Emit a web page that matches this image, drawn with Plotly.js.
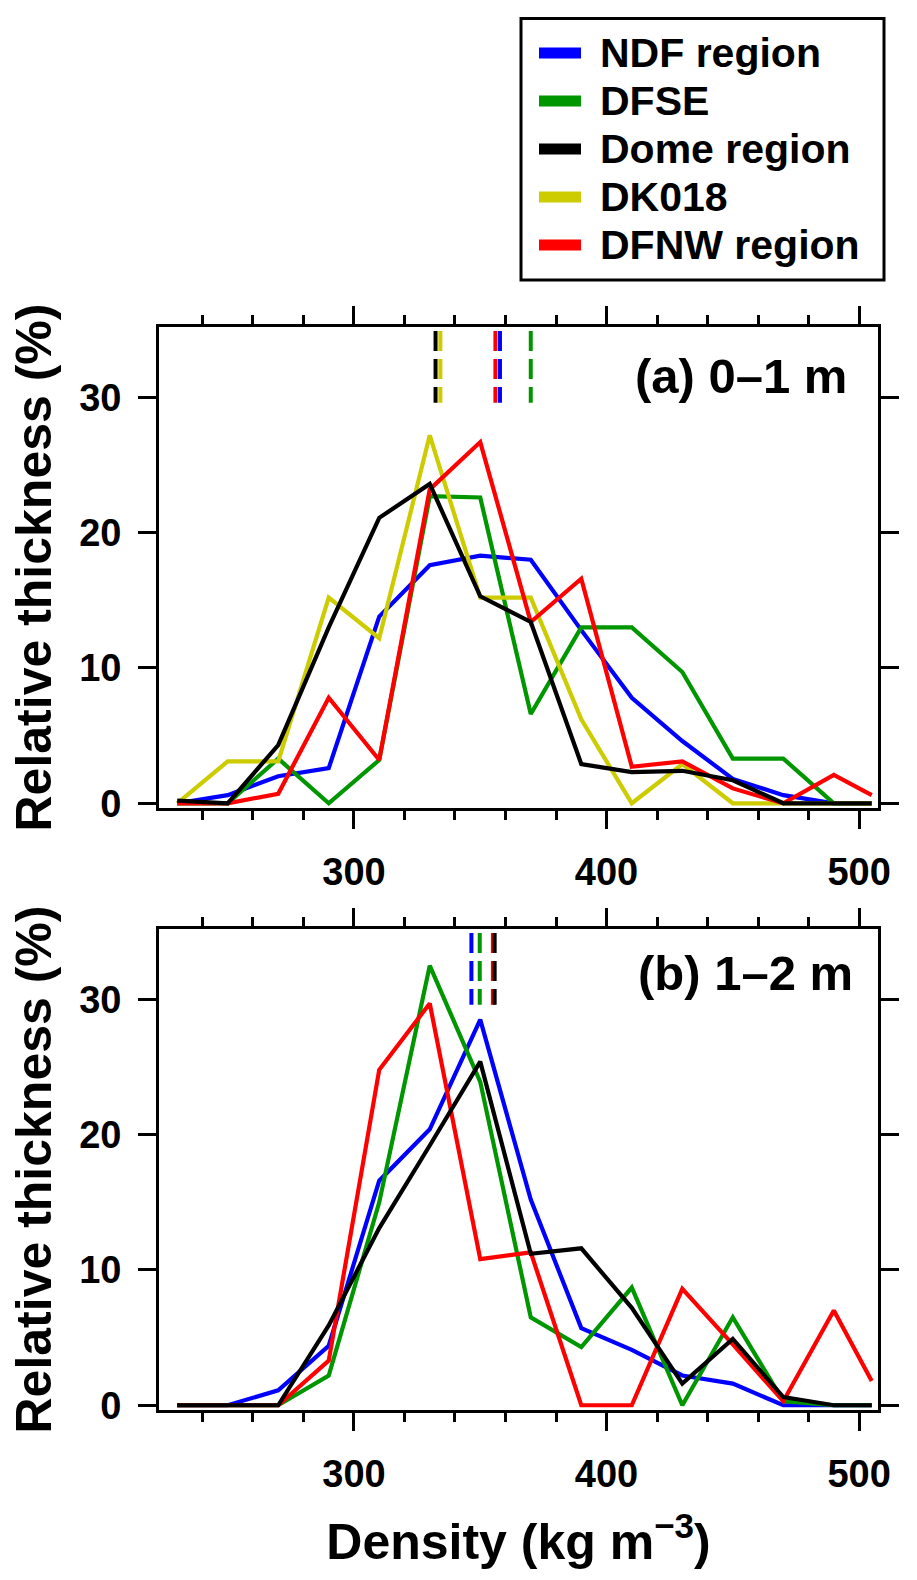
<!DOCTYPE html>
<html>
<head>
<meta charset="utf-8">
<script src="https://cdn.plot.ly/plotly-3.0.1.min.js"></script>
<style>body{margin:0;background:#fff}</style>
</head>
<body>
<div id="chartDiv" style="width:917px;height:1580px"></div>
<script>
// density bin centres (kg m-3)
var density = [230, 250, 270, 290, 310, 330, 350, 370, 390, 410, 430, 450, 470, 490, 505];

// (a) 0-1 m, relative thickness (%)
var ndfA   = [0, 0.6, 2.0, 2.6, 13.8, 17.6, 18.3, 18.0, 12.8, 7.8, 4.6, 1.8, 0.6, 0, 0];
var dfseA  = [0, 0, 3.3, 0, 3.2, 22.7, 22.6, 6.6, 13.0, 13.0, 9.7, 3.3, 3.3, 0, 0];
var domeA  = [0.2, 0, 4.3, 13.0, 21.1, 23.6, 15.3, 13.4, 2.9, 2.3, 2.4, 1.7, 0, 0, 0];
var dk018A = [0, 3.1, 3.1, 15.2, 12.2, 27.2, 15.2, 15.2, 6.2, 0, 2.9, 0, 0, 0, 0];
var dfnwA  = [0, 0, 0.7, 7.8, 3.2, 23.2, 26.7, 13.4, 16.6, 2.7, 3.1, 1.1, 0, 2.1, 0.6];

// (b) 1-2 m
var ndfB   = [0, 0, 1.1, 4.4, 16.6, 20.4, 28.5, 15.2, 5.7, 4.1, 2.2, 1.6, 0, 0, 0];
var dfseB  = [0, 0, 0, 2.2, 15.0, 32.5, 23.9, 6.5, 4.3, 8.7, 0, 6.5, 0.3, 0, 0];
var domeB  = [0, 0, 0, 5.9, 13.1, 19.2, 25.4, 11.2, 11.6, 7.2, 1.6, 4.9, 0.6, 0, 0];
var dfnwB  = [0, 0, 0, 3.3, 24.8, 29.7, 10.8, 11.3, 0, 0, 8.6, 4.5, 0.3, 7.0, 1.8];

// mean densities (dashed marks at the top)
var meanA = {ndf: 357.8, dfse: 370.0, dome: 332.3, dk018: 334.2, dfnw: 356.0};
var meanB = {ndf: 346.5, dfse: 349.8, dome: 355.7, dfnw: 355.0};

var names = ["NDF region", "DFSE", "Dome region", "DK018", "DFNW region"];
var keys = ["ndf", "dfse", "dome", "dk018", "dfnw"];
var colors = {ndf: "#0000ff", dfse: "#009600", dome: "#000000", dk018: "#cccc00", dfnw: "#ff0000"};

var fontFam = "Liberation Sans, Arial, sans-serif";

function line(y, color, xa, ya) {
	return {
		x: density, y: y, mode: "lines", type: "scatter",
		line: {color: color, width: 4.2},
		xaxis: xa, yaxis: ya, showlegend: false, hoverinfo: "skip"
	};
}

function meanLine(xm, color, xa, ya) {
	return {
		x: [xm, xm], y: [34.9, 29.6], mode: "lines", type: "scatter",
		line: {color: color, width: 4, dash: "20px,8px"},
		xaxis: xa, yaxis: ya, showlegend: false, hoverinfo: "skip"
	};
}

var data = [];
// top panel
data.push(meanLine(meanA.dome, colors.dome, "x", "y"));
data.push(meanLine(meanA.dk018, colors.dk018, "x", "y"));
data.push(meanLine(meanA.dfnw, colors.dfnw, "x", "y"));
data.push(meanLine(meanA.ndf, colors.ndf, "x", "y"));
data.push(meanLine(meanA.dfse, colors.dfse, "x", "y"));
data.push(line(ndfA, colors.ndf, "x", "y"));
data.push(line(dfseA, colors.dfse, "x", "y"));
data.push(line(dk018A, colors.dk018, "x", "y"));
data.push(line(dfnwA, colors.dfnw, "x", "y"));
data.push(line(domeA, colors.dome, "x", "y"));
// bottom panel
data.push(meanLine(meanB.ndf, colors.ndf, "x2", "y2"));
data.push(meanLine(meanB.dfse, colors.dfse, "x2", "y2"));
data.push(meanLine(meanB.dfnw, colors.dfnw, "x2", "y2"));
data.push(meanLine(meanB.dome, colors.dome, "x2", "y2"));
data.push(line(ndfB, colors.ndf, "x2", "y2"));
data.push(line(dfseB, colors.dfse, "x2", "y2"));
data.push(line(dfnwB, colors.dfnw, "x2", "y2"));
data.push(line(domeB, colors.dome, "x2", "y2"));

var tickFont = {family: fontFam, size: 38, color: "black", weight: "bold"};
var bigFont = {family: fontFam, size: 50, color: "black", weight: "bold"};

function xAxis(domain, anchor, withTitle) {
	var ax = {
		domain: domain, anchor: anchor, range: [222.8, 507.5],
		tick0: 0, dtick: 100, ticks: "outside", ticklen: 18, tickwidth: 3, tickcolor: "black",
		minor: {tick0: 0, dtick: 20, ticks: "outside", ticklen: 9, tickwidth: 3, tickcolor: "black"},
		showline: true, linewidth: 3, linecolor: "black", mirror: "allticks",
		showgrid: false, zeroline: false, tickfont: tickFont, ticklabelstandoff: 10
	};
	if (withTitle) {
		ax.title = {text: "Density (kg m<sup>\u22123</sup>)", standoff: 31, font: bigFont};
	}
	return ax;
}

function yAxis(domain, anchor) {
	return {
		domain: domain, anchor: anchor, range: [-0.35, 35.2],
		tick0: 0, dtick: 10, ticks: "outside", ticklen: 18, tickwidth: 3, tickcolor: "black",
		showline: true, linewidth: 3, linecolor: "black", mirror: "allticks",
		showgrid: false, zeroline: false, tickfont: tickFont, ticklabelstandoff: 9,
		title: {text: "Relative thickness (%)", standoff: 12, font: bigFont}
	};
}

// legend drawn as a boxed key: swatches and labels
var shapes = [{
	type: "rect", xref: "paper", yref: "paper",
	x0: 521 / 917, x1: 884 / 917, y0: 1 - 280 / 1580, y1: 1 - 18.5 / 1580,
	line: {color: "black", width: 3}
}];
var annotations = [];
for (let i = 0; i < keys.length; i++) {
	var yc = 1 - (53 + i * 48) / 1580;
	shapes.push({
		type: "line", xref: "paper", yref: "paper",
		x0: 539 / 917, x1: 581 / 917, y0: yc, y1: yc,
		line: {color: colors[keys[i]], width: 11}
	});
	annotations.push({
		text: names[i], xref: "paper", yref: "paper", x: 598 / 917, y: yc,
		xanchor: "left", yanchor: "middle", showarrow: false,
		font: {family: fontFam, size: 41, color: "black", weight: "bold"}
	});
}
annotations.push(
	{text: "(a) 0\u20131 m", xref: "paper", yref: "paper", x: 849 / 917, y: 1 - 376 / 1580,
		xanchor: "right", yanchor: "middle", showarrow: false,
		font: {family: fontFam, size: 49, color: "black", weight: "bold"}},
	{text: "(b) 1\u20132 m", xref: "paper", yref: "paper", x: 855 / 917, y: 1 - 973 / 1580,
		xanchor: "right", yanchor: "middle", showarrow: false,
		font: {family: fontFam, size: 49, color: "black", weight: "bold"}}
);

var layout = {
	width: 917, height: 1580,
	margin: {l: 0, r: 0, t: 0, b: 0},
	paper_bgcolor: "white", plot_bgcolor: "white",
	font: {family: fontFam, color: "black"},
	xaxis: xAxis([0.1734, 0.9575], "y", false),
	yaxis: yAxis([0.4886, 0.7930], "x"),
	xaxis2: xAxis([0.1734, 0.9575], "y2", true),
	yaxis2: yAxis([0.1076, 0.4120], "x2"),
	showlegend: false,
	shapes: shapes,
	annotations: annotations
};

Plotly.newPlot("chartDiv", data, layout, {staticPlot: true});
</script>
</body>
</html>
